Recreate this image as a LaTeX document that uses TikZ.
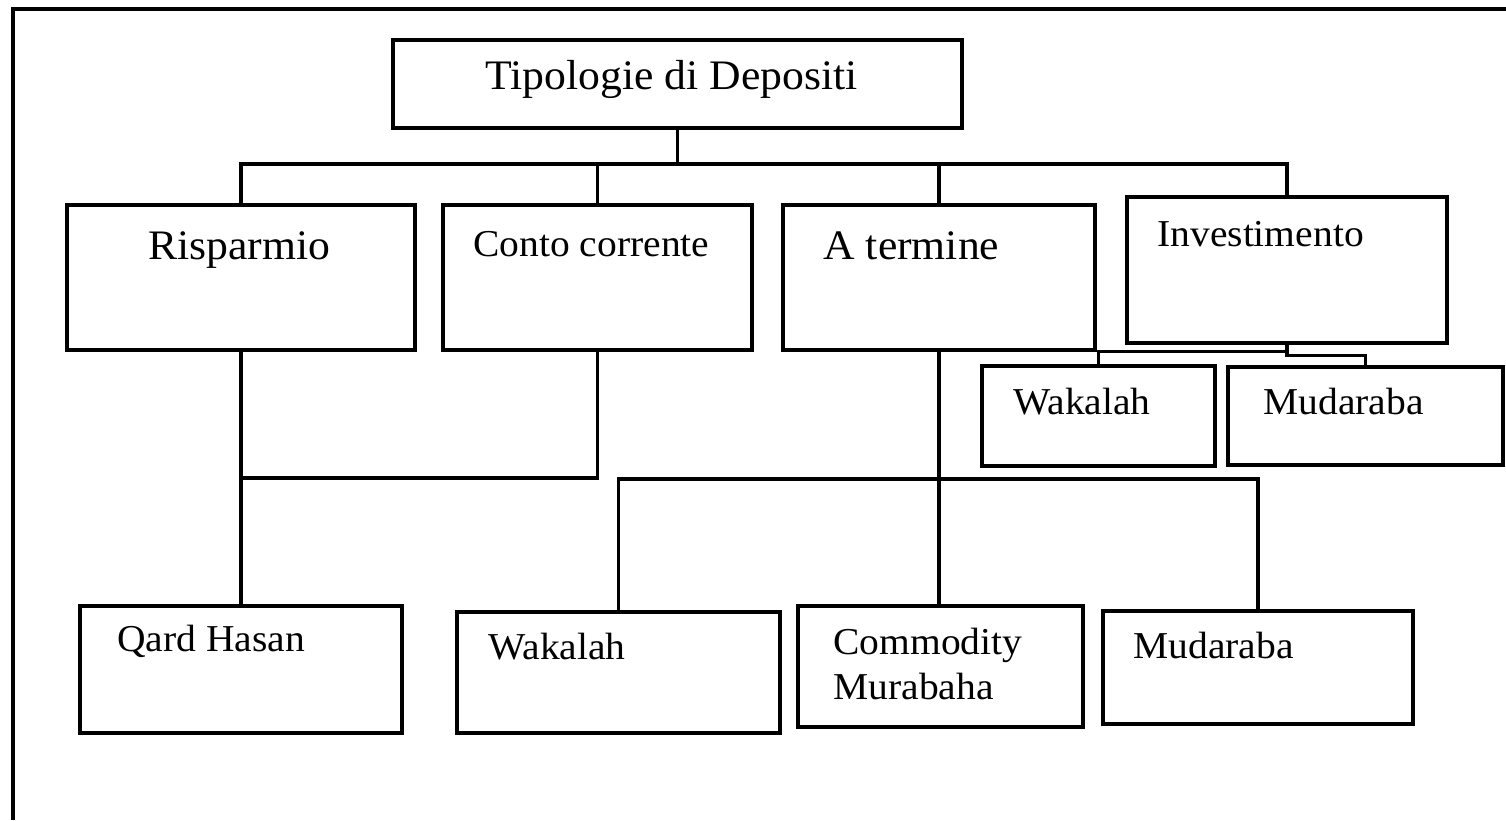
\documentclass[tikz,border=0pt]{standalone}
\usepackage{fontspec}
\setmainfont{Liberation Serif}[FakeStretch=1.04]
\usepackage{tikz}
\usetikzlibrary{fit}
\tikzset{
  box/.style={draw,line width=1.6pt,inner sep=0pt},
  link/.style={line width=1.6pt},
  big/.style={anchor=base west,inner sep=0pt,font=\fontsize{21}{25}\selectfont},
  small/.style={anchor=base west,inner sep=0pt,font=\fontsize{19}{22.5}\selectfont}
}

\begin{document}
\begin{tikzpicture}[x=0.5pt,y=-0.5pt]
\useasboundingbox (0,0) rectangle (1506,820);
\draw[line width=1.6pt] (1506,9) -- (13,9) -- (13,820);
\node[box,fit={(393,40) (962,128)}] (top) {};
\node[box,fit={(67,205) (415,350)}] (ris) {};
\node[box,fit={(443,205) (752,350)}] (con) {};
\node[box,fit={(783,205) (1095,350)}] (ter) {};
\node[box,fit={(1127,197) (1447,343)}] (inv) {};
\node[box,fit={(982,366) (1215,466)}] (wak2) {};
\node[box,fit={(1228,367) (1503,465)}] (mud2) {};
\node[box,fit={(80,606) (402,733)}] (qard) {};
\node[box,fit={(457,612) (780,733)}] (wak) {};
\node[box,fit={(798,606) (1083,727)}] (com) {};
\node[box,fit={(1103,611) (1413,724)}] (mud) {};
\node[big] (top-t) at (485,89) {Tipologie di Depositi};
\node[big] (ris-t) at (148,259) {Risparmio};
\node[small] (con-t) at (473,256) {Conto corrente};
\node[big] (ter-t) at (823,259) {A termine};
\node[small] (inv-t) at (1157,246) {Investimento};
\node[small] (wak2-t) at (1013,414) {Wakalah};
\node[small] (mud2-t) at (1263,414) {Mudaraba};
\node[small] (qard-t) at (117,651) {Qard Hasan};
\node[small] (wak-t) at (488,659) {Wakalah};
\node[small,text width=110pt,align=left] (com-t) at (833,654) {Commodity\\Murabaha};
\node[small] (mud-t) at (1133,658) {Mudaraba};
\coordinate (jT) at (0,164);
\coordinate (jA) at (0,478);
\coordinate (jB) at (0,479);
\draw[link] (top.south) -- (top.south |- jT);
\draw[link] (ris.north) |- (inv.north |- jT) -- (inv.north);
\draw[link] (con.north) -- (con.north |- jT);
\draw[link] (ter.north) -- (ter.north |- jT);
\draw[link] (ris.south) |- (con.south |- jA) -- (con.south);
\draw[link] (qard.north) -- (qard.north |- jA);
\draw[link] (wak.north) |- (mud.north |- jB) -- (mud.north);
\draw[link] (ter.south) -- (ter.south |- com.north);
\draw[link] (inv.south) -- ++(0,7) -| (wak2.north);
\draw[link] (inv.south) -- ++(0,11) -| (mud2.north);
\end{tikzpicture}
\end{document}
